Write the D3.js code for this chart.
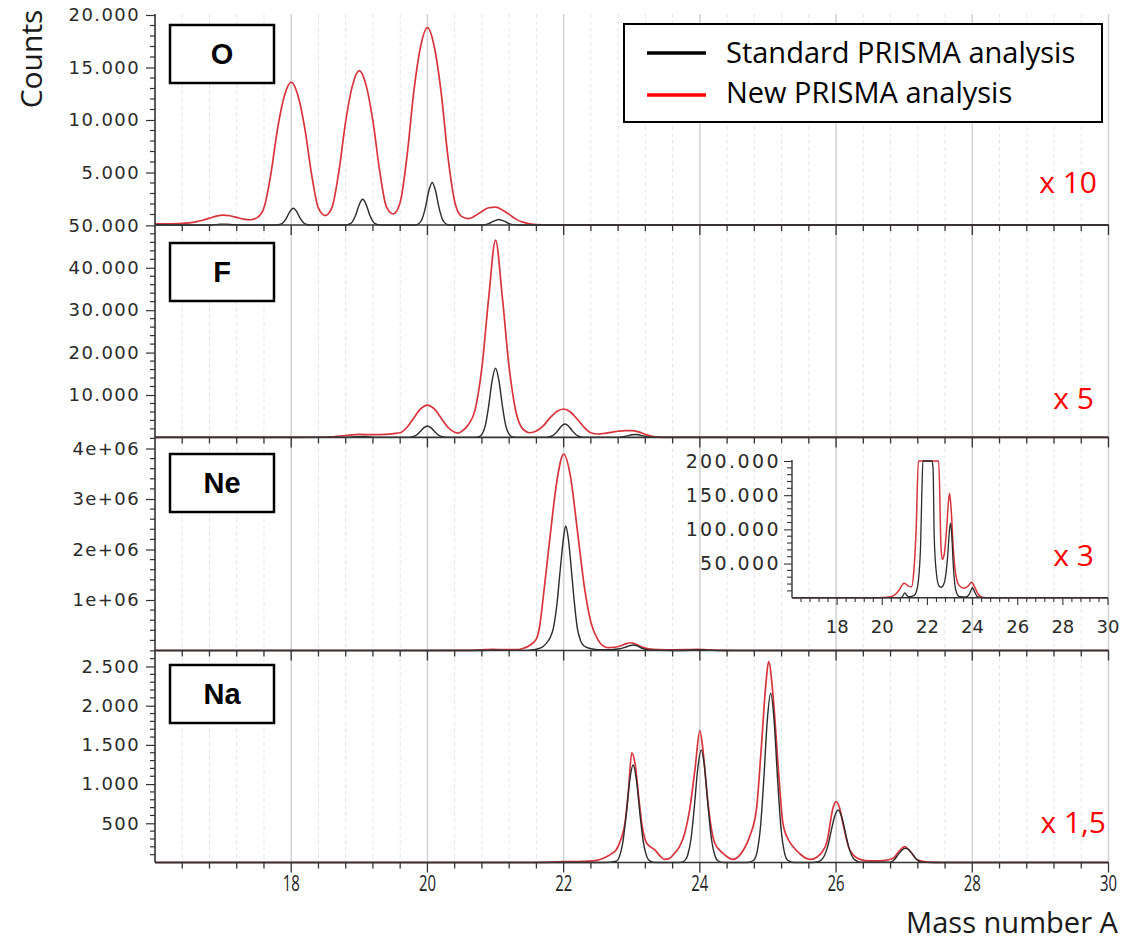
<!DOCTYPE html>
<html>
<head>
<meta charset="utf-8">
<script src="https://cdn.jsdelivr.net/npm/d3@7"></script>
<style>
  body { margin: 0; background: #fff; }
  svg { display: block; }
</style>
</head>
<body>
<svg id="chart" width="1136" height="941"></svg>
<script>
// ---- Data -----------------------------------------------------------------
const massDomain = [16, 30];
const massLabels = [18, 20, 22, 24, 26, 28, 30];
const elementNames = ["O", "F", "Ne", "Na"];
const scaleFactors = ["x 10", "x 5", "x 3", "x 1,5"];
const legendLabels = ["Standard PRISMA analysis", "New PRISMA analysis"];

// y tick labels per panel
const oTicks = [5000, 10000, 15000, 20000];
const fTicks = [10000, 20000, 30000, 40000, 50000];
const neTicks = [1e6, 2e6, 3e6, 4e6];
const naTicks = [500, 1000, 1500, 2000, 2500];
const insetTicks = [50000, 100000, 150000, 200000];

// Oxygen: [mass number, counts]
const oStandard = [
  [16, 0], [16.85, 0], [16.95, 80], [17.05, 80], [17.15, 20], [17.3, 0],
  [17.78, 0], [17.83, 45], [17.88, 215], [17.93, 650], [17.98, 1280], [18.03, 1600],
  [18.08, 1280], [18.13, 650], [18.18, 215], [18.23, 45], [18.28, 0],
  [18.8, 0], [18.85, 70], [18.9, 330], [18.95, 1000], [19.0, 1960], [19.05, 2450],
  [19.1, 1960], [19.15, 1000], [19.2, 330], [19.25, 70], [19.3, 0],
  [19.82, 0], [19.87, 115], [19.92, 550], [19.97, 1660], [20.02, 3240], [20.07, 4050],
  [20.12, 3240], [20.17, 1660], [20.22, 550], [20.27, 115], [20.32, 0],
  [20.8, 0], [20.85, 40], [20.9, 130], [20.95, 290], [21.0, 440], [21.05, 520],
  [21.1, 440], [21.15, 290], [21.2, 130], [21.25, 40], [21.3, 0], [30, 0]
];
const oNew = [
  [16.0, 100], [16.2, 110], [16.4, 150], [16.6, 300], [16.7, 450], [16.8, 650],
  [16.9, 850], [17.0, 950], [17.1, 880], [17.2, 720], [17.3, 560], [17.4, 500],
  [17.5, 700], [17.6, 1650], [17.7, 4800], [17.8, 9180], [17.9, 12300], [18.0, 13600],
  [18.1, 12300], [18.2, 9180], [18.3, 4800], [18.4, 1600], [18.5, 900], [18.6, 1700],
  [18.7, 5100], [18.8, 9900], [18.9, 13300], [19.0, 14700], [19.1, 13300], [19.2, 9900],
  [19.3, 5100], [19.4, 1700], [19.5, 1050], [19.6, 2160], [19.7, 6550], [19.8, 12700],
  [19.9, 17000], [20.0, 18800], [20.1, 17000], [20.2, 12700], [20.3, 6550], [20.4, 2240],
  [20.5, 820], [20.6, 600], [20.7, 870], [20.8, 1290], [20.9, 1640], [21.0, 1700],
  [21.1, 1440], [21.2, 1010], [21.3, 560], [21.4, 270], [21.5, 120], [21.6, 40],
  [21.8, 10], [22.0, 5], [30, 5]
];

// Fluorine
const fStandard = [
  [16, 0], [18.85, 0], [18.95, 150], [19.05, 200], [19.15, 100], [19.25, 0],
  [19.7, 0], [19.75, 60], [19.8, 230], [19.85, 680], [19.9, 1460], [19.95, 2310], [20.0, 2700],
  [20.05, 2310], [20.1, 1460], [20.15, 680], [20.2, 230], [20.25, 60], [20.3, 0],
  [20.7, 0], [20.75, 120], [20.8, 720], [20.85, 2770], [20.9, 7500], [20.95, 13370], [21.0, 16300],
  [21.05, 13370], [21.1, 7500], [21.15, 2770], [21.2, 720], [21.25, 120], [21.3, 0],
  [21.72, 0], [21.77, 65], [21.82, 270], [21.87, 790], [21.92, 1700], [21.97, 2700], [22.02, 3150],
  [22.07, 2700], [22.12, 1700], [22.17, 790], [22.22, 270], [22.27, 65], [22.32, 0],
  [22.8, 0], [22.85, 90], [22.9, 230], [22.95, 420], [23.0, 610], [23.05, 700],
  [23.1, 610], [23.15, 420], [23.2, 230], [23.25, 90], [23.3, 0], [30, 0]
];
const fNew = [
  [16, 0], [18.0, 0], [18.4, 40], [18.6, 150], [18.8, 450], [19.0, 700], [19.2, 650],
  [19.4, 700], [19.5, 900], [19.6, 1100], [19.7, 2400], [19.8, 4600], [19.9, 6700],
  [20.0, 7600], [20.1, 6700], [20.2, 4600], [20.3, 2400], [20.4, 1200], [20.45, 1000],
  [20.5, 1400], [20.6, 3000], [20.7, 6500], [20.8, 16500], [20.9, 33000], [21.0, 46500],
  [21.1, 33000], [21.2, 16500], [21.3, 6000], [21.4, 2000], [21.5, 1100], [21.6, 1500],
  [21.7, 2700], [21.8, 4600], [21.9, 6100], [22.0, 6700], [22.1, 6000], [22.2, 4300],
  [22.3, 2400], [22.4, 1100], [22.5, 800], [22.6, 950], [22.7, 1200], [22.8, 1450],
  [22.9, 1600], [23.0, 1600], [23.1, 1300], [23.2, 700], [23.3, 250], [23.4, 80],
  [23.6, 20], [24, 0], [30, 0]
];

// Neon
const neStandard = [
  [16, 0], [20.8, 0], [20.9, 2000], [21.0, 7000], [21.1, 3000], [21.2, 1500], [21.4, 3000],
  [21.5, 8000], [21.6, 25000], [21.7, 80000], [21.75, 150000], [21.8, 250000], [21.85, 450000],
  [21.9, 900000], [21.95, 1600000], [22.0, 2250000], [22.03, 2465000], [22.07, 2200000],
  [22.1, 1800000], [22.15, 1050000], [22.2, 450000], [22.25, 190000], [22.3, 90000],
  [22.4, 35000], [22.5, 18000], [22.6, 15000], [22.7, 18000], [22.8, 30000], [22.9, 62000],
  [22.98, 100000], [23.03, 109000], [23.08, 90000], [23.15, 45000], [23.25, 12000],
  [23.4, 2000], [23.7, 1000], [23.85, 5000], [23.95, 12000], [24.0, 14600], [24.07, 10000],
  [24.2, 2000], [24.4, 0], [30, 0]
];
const neNew = [
  [16, 0], [19.7, 0], [20.0, 300], [20.3, 1000], [20.5, 3000], [20.7, 9000], [20.85, 17000],
  [20.96, 21000], [21.05, 20000], [21.15, 17000], [21.3, 16000], [21.4, 40000],
  [21.5, 100000], [21.6, 230000], [21.65, 500000], [21.7, 1050000], [21.8, 2250000],
  [21.9, 3350000], [22.0, 3890000], [22.1, 3450000], [22.2, 2400000], [22.3, 1300000],
  [22.4, 560000], [22.5, 220000], [22.6, 75000], [22.66, 56000], [22.75, 65000],
  [22.85, 100000], [22.93, 140000], [22.98, 153000], [23.05, 130000], [23.15, 70000],
  [23.25, 35000], [23.4, 18000], [23.6, 14000], [23.8, 17000], [23.96, 22500],
  [24.1, 15000], [24.25, 5000], [24.4, 1000], [24.6, 0], [30, 0]
];

// Sodium
const naStandard = [
  [16, 0], [22.6, 0], [22.77, 16], [22.82, 78], [22.87, 260], [22.92, 620], [22.97, 1045],
  [23.02, 1244], [23.07, 1045], [23.12, 620], [23.17, 260], [23.22, 78], [23.27, 16], [23.35, 0],
  [23.7, 0], [23.77, 19], [23.82, 90], [23.87, 300], [23.92, 720], [23.97, 1205], [24.02, 1435],
  [24.07, 1205], [24.12, 720], [24.17, 300], [24.22, 90], [24.27, 19], [24.35, 0],
  [24.7, 0], [24.79, 28], [24.84, 136], [24.89, 453], [24.94, 1080], [24.99, 1813], [25.04, 2158],
  [25.09, 1813], [25.14, 1080], [25.19, 453], [25.24, 136], [25.29, 28], [25.37, 0],
  [25.65, 0], [25.73, 10], [25.78, 30], [25.83, 90], [25.88, 215], [25.93, 410], [25.98, 590],
  [26.03, 670], [26.08, 590], [26.13, 410], [26.18, 215], [26.23, 90], [26.28, 30], [26.35, 5],
  [26.8, 5], [26.87, 50], [26.92, 110], [26.97, 160], [27.02, 181], [27.07, 160], [27.12, 110],
  [27.17, 50], [27.25, 5], [27.4, 0], [30, 0]
];
const naNew = [
  [16, 0], [21.5, 0], [22.0, 10], [22.3, 15], [22.5, 30], [22.6, 60], [22.7, 110], [22.77, 160],
  [22.85, 320], [22.9, 500], [22.95, 900], [23.0, 1400], [23.05, 1250], [23.1, 850],
  [23.15, 480], [23.22, 245], [23.34, 160], [23.42, 80], [23.48, 40], [23.55, 50],
  [23.62, 110], [23.7, 200], [23.78, 380], [23.85, 670], [23.93, 1200], [24.0, 1681],
  [24.05, 1400], [24.1, 925], [24.16, 480], [24.22, 245], [24.34, 117], [24.49, 40],
  [24.6, 110], [24.73, 330], [24.83, 670], [24.9, 1435], [24.97, 2285], [25.01, 2561],
  [25.08, 2073], [25.15, 1222], [25.22, 500], [25.3, 290], [25.37, 200], [25.47, 110],
  [25.56, 53], [25.63, 40], [25.72, 70], [25.8, 140], [25.86, 245], [25.96, 712],
  [26.0, 776], [26.05, 700], [26.1, 500], [26.2, 160], [26.35, 40], [26.5, 20],
  [26.7, 25], [26.84, 53], [26.92, 140], [27.01, 202], [27.08, 150], [27.2, 30],
  [27.35, 5], [27.6, 0], [30, 0]
];

// ---- Layout ---------------------------------------------------------------
const W = 1136, H = 941;
const left = 155, right = 1108.5;
const colStd = "#2b2b2b", colNew = "#d9343c";
const axisCol = "#333";

const dotLocale = d3.formatLocale({ decimal: ",", thousands: ".", grouping: [3], currency: ["", ""] });
const dotFmt = dotLocale.format(",");
const sciFmt = v => {
  const e = Math.floor(Math.log10(v));
  const m = Math.round(v / Math.pow(10, e));
  return m + "e+" + String(e).padStart(2, "0");
};

const panels = [
  { name: elementNames[0], top: 15,    bottom: 225,   max: 20000,   ticks: oTicks,  minor: 1000,  fmt: dotFmt, std: oStandard,  neu: oNew,  boxY: 25,  factor: scaleFactors[0], fx: 1097, fy: 193 },
  { name: elementNames[1], top: 225,   bottom: 437.4, max: 50084,   ticks: fTicks,  minor: 2000,  fmt: dotFmt, std: fStandard,  neu: fNew,  boxY: 243, factor: scaleFactors[1], fx: 1094, fy: 409 },
  { name: elementNames[2], top: 437.4, bottom: 650.5, max: 4220000, ticks: neTicks, minor: 200000, fmt: sciFmt, std: neStandard, neu: neNew, boxY: 454, factor: scaleFactors[2], fx: 1094, fy: 566 },
  { name: elementNames[3], top: 650.5, bottom: 862.5, max: 2704,    ticks: naTicks, minor: 100,   fmt: dotFmt, std: naStandard, neu: naNew, boxY: 665, factor: scaleFactors[3], fx: 1106, fy: 833 }
];

const svg = d3.select("#chart");
svg.append("rect").attr("width", W).attr("height", H).attr("fill", "#fff");

const x = d3.scaleLinear(massDomain, [left, right]);
const gridVals = d3.range(1, 36).map(i => Math.round((massDomain[0] + i * 0.4) * 10) / 10);
const isMajor = v => Math.abs(v / 2 - Math.round(v / 2)) < 1e-6;

// vertical grid through all panels
const grid = svg.append("g");
grid.selectAll("line").data(gridVals).join("line")
  .attr("x1", d => x(d)).attr("x2", d => x(d))
  .attr("y1", 14).attr("y2", 862.5)
  .attr("stroke", d => isMajor(d) ? "#d4d4d4" : "#e6e6e6")
  .attr("stroke-width", d => isMajor(d) ? 1.6 : 1)
  .attr("stroke-dasharray", d => isMajor(d) ? null : "4,3");

const tickFont = "'DejaVu Sans', Verdana, sans-serif";

panels.forEach(p => {
  const y = d3.scaleLinear([0, p.max], [p.bottom, p.top]);
  const g = svg.append("g");

  const line = d3.line().x(d => x(d[0])).y(d => y(d[1])).curve(d3.curveMonotoneX);
  g.append("path").datum(p.neu).attr("d", line)
    .attr("fill", "none").attr("stroke", colNew).attr("stroke-width", 1.7).attr("stroke-linejoin", "round");
  g.append("path").datum(p.std).attr("d", line)
    .attr("fill", "none").attr("stroke", colStd).attr("stroke-width", 1.4).attr("stroke-linejoin", "round");

  // y axis: minor ticks
  const minorVals = d3.range(p.minor, p.max + 1, p.minor).filter(v => !p.ticks.includes(v));
  g.selectAll(".ymin").data(minorVals).join("line")
    .attr("x1", left - 5).attr("x2", left)
    .attr("y1", d => y(d)).attr("y2", d => y(d))
    .attr("stroke", axisCol).attr("stroke-width", 1.2);
  // y axis: major ticks with labels
  const yAxis = d3.axisLeft(y).tickValues(p.ticks).tickFormat(p.fmt).tickSize(9).tickPadding(6);
  const ga = g.append("g").attr("transform", `translate(${left},0)`).call(yAxis);
  ga.select(".domain").remove();
  ga.selectAll(".tick line").attr("stroke", axisCol).attr("stroke-width", 1.2);
  ga.selectAll(".tick text")
    .attr("font-family", tickFont).attr("font-size", 18).attr("fill", "#2a2a2a")
    .attr("letter-spacing", 1.4);

  // bottom axis line of the panel with downward ticks
  const gx = g.append("g").attr("transform", `translate(0,${p.bottom})`);
  gx.append("line").attr("x1", left).attr("x2", right).attr("stroke", axisCol).attr("stroke-width", 1.6);
  gx.selectAll(".xt").data(gridVals).join("line")
    .attr("x1", d => x(d)).attr("x2", d => x(d))
    .attr("y1", 0).attr("y2", d => isMajor(d) ? 10 : 6)
    .attr("stroke", axisCol).attr("stroke-width", 1.3);

  // element box
  g.append("rect").attr("x", 170).attr("y", p.boxY).attr("width", 104).attr("height", 58)
    .attr("fill", "#fff").attr("stroke", "#000").attr("stroke-width", 2.5);
  g.append("text").attr("x", 222).attr("y", p.boxY + 39)
    .attr("text-anchor", "middle").attr("font-family", "'Liberation Sans', Arial, sans-serif")
    .attr("font-weight", "bold").attr("font-size", 29).attr("fill", "#000").text(p.name);

  // scale factor
  g.append("text").attr("x", p.fx).attr("y", p.fy).attr("text-anchor", "end")
    .attr("font-family", "'Open Sans', sans-serif").attr("font-size", 30).attr("fill", "#ff0000")
    .text(p.factor);

  p.yScale = y;
});

// y axis line
svg.append("line").attr("x1", left).attr("x2", left).attr("y1", 14).attr("y2", 862.5)
  .attr("stroke", axisCol).attr("stroke-width", 1.6);

// bottom tick labels
svg.append("g").selectAll("text").data(massLabels).join("text")
  .attr("x", d => x(d)).attr("y", 891)
  .attr("text-anchor", "middle").attr("font-family", "'Open Sans', sans-serif")
  .attr("font-size", 21).attr("fill", "#222")
  .attr("textLength", 17).attr("lengthAdjust", "spacingAndGlyphs")
  .text(d => d);

// ---- Inset (Neon zoom) -----------------------------------------------------
const xi = d3.scaleLinear(massDomain, [792, 1108]);
const yi = d3.scaleLinear([0, 200000], [597.7, 461]).clamp(true);
const gi = svg.append("g");
const lineI = d3.line().x(d => xi(d[0])).y(d => yi(d[1])).curve(d3.curveMonotoneX);
gi.append("path").datum(neNew).attr("d", lineI)
  .attr("fill", "none").attr("stroke", colNew).attr("stroke-width", 1.5);
gi.append("path").datum(neStandard).attr("d", lineI)
  .attr("fill", "none").attr("stroke", colStd).attr("stroke-width", 1.3);

const insetMinor = d3.range(10000, 200001, 10000).filter(v => !insetTicks.includes(v));
gi.selectAll(".imin").data(insetMinor).join("line")
  .attr("x1", 792 - 5).attr("x2", 792).attr("y1", d => yi(d)).attr("y2", d => yi(d))
  .attr("stroke", axisCol).attr("stroke-width", 1.1);
const iax = gi.append("g").attr("transform", "translate(792,0)")
  .call(d3.axisLeft(yi).tickValues(insetTicks).tickFormat(dotFmt).tickSize(8).tickPadding(3));
iax.select(".domain").remove();
iax.selectAll(".tick line").attr("stroke", axisCol).attr("stroke-width", 1.1);
iax.selectAll(".tick text").attr("font-family", tickFont).attr("font-size", 19)
  .attr("fill", "#2a2a2a").attr("letter-spacing", 2.4);
gi.append("line").attr("x1", 792).attr("x2", 792).attr("y1", 460).attr("y2", 597.7)
  .attr("stroke", axisCol).attr("stroke-width", 1.4);
gi.append("line").attr("x1", 792).attr("x2", 1108).attr("y1", 597.7).attr("y2", 597.7)
  .attr("stroke", axisCol).attr("stroke-width", 1.4);
gi.selectAll(".ixt").data(gridVals).join("line")
  .attr("x1", d => xi(d)).attr("x2", d => xi(d))
  .attr("y1", 597.7).attr("y2", d => isMajor(d) ? 605 : 602)
  .attr("stroke", axisCol).attr("stroke-width", 1.1);
gi.selectAll(".ixl").data(massLabels).join("text")
  .attr("x", d => xi(d)).attr("y", 633).attr("text-anchor", "middle")
  .attr("font-family", tickFont).attr("font-size", 18).attr("fill", "#2a2a2a")
  .text(d => d);

// ---- Legend -----------------------------------------------------------------
const lg = svg.append("g");
lg.append("rect").attr("x", 624).attr("y", 24).attr("width", 478).attr("height", 98)
  .attr("fill", "#fff").attr("stroke", "#000").attr("stroke-width", 2);
[["#000000", 53, 63], ["#ff0000", 95, 103]].forEach((c, i) => {
  lg.append("line").attr("x1", 647).attr("x2", 706).attr("y1", c[1]).attr("y2", c[1])
    .attr("stroke", c[0]).attr("stroke-width", 3.5);
  lg.append("text").attr("x", 726).attr("y", c[2])
    .attr("font-family", "'Open Sans', sans-serif").attr("font-size", 29).attr("fill", "#000")
    .text(legendLabels[i]);
});

// ---- Axis titles ------------------------------------------------------------
svg.append("text").attr("transform", "translate(42,59) rotate(-90)")
  .attr("text-anchor", "middle").attr("font-family", "'Open Sans', sans-serif")
  .attr("font-size", 30).attr("fill", "#1a1a1a").text("Counts");
svg.append("text").attr("x", 1118).attr("y", 933).attr("text-anchor", "end")
  .attr("font-family", "'Open Sans', sans-serif").attr("font-size", 29).attr("fill", "#1a1a1a")
  .attr("textLength", 212).attr("lengthAdjust", "spacingAndGlyphs")
  .text("Mass number A");
</script>
</body>
</html>
